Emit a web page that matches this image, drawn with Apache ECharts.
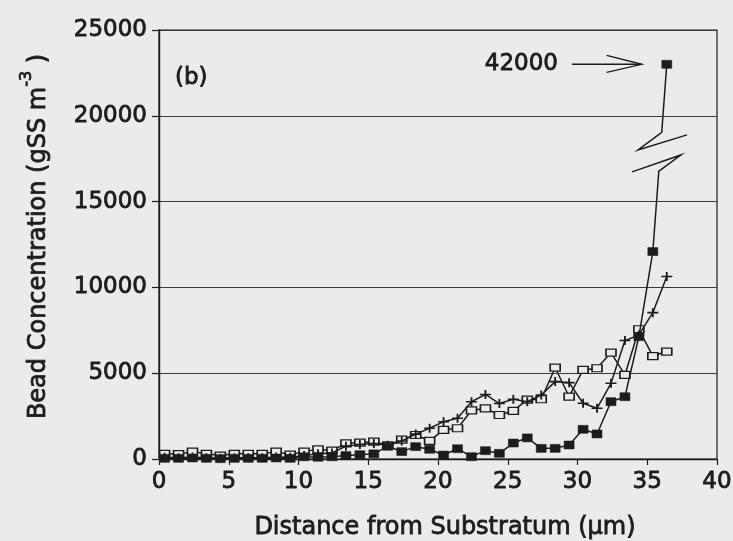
<!DOCTYPE html>
<html>
<head>
<meta charset="utf-8">
<script src="https://cdn.jsdelivr.net/npm/echarts@6/dist/echarts.min.js"></script>
<style>
  html, body { margin: 0; padding: 0; background: #ebebe9; }
  #chart { width: 733px; height: 541px; }
</style>
</head>
<body>
<div id="chart"></div>
<script>
// Distance from the substratum (µm) at each sampled depth
const distance = [0.4, 1.4, 2.4, 3.4, 4.4, 5.4, 6.4, 7.4, 8.4, 9.4,
  10.4, 11.4, 12.4, 13.4, 14.4, 15.4, 16.4, 17.4, 18.4, 19.4,
  20.4, 21.4, 22.4, 23.4, 24.4, 25.4, 26.4, 27.4, 28.4, 29.4,
  30.4, 31.4, 32.4, 33.4, 34.4, 35.4, 36.4];

// Bead concentration (gSS m^-3), one list per profile
const openSquares = [300, 280, 430, 300, 200, 300, 300, 300, 430, 250,
  430, 565, 485, 915, 950, 1010, 800, 1130, 1400, 1060,
  1700, 1790, 2830, 2950, 2565, 2800, 3460, 3480, 5320, 3630,
  5190, 5290, 6200, 4900, 7560, 6000, 6260];

const crosses = [100, 80, 120, 80, 50, 80, 80, 80, 120, 100,
  200, 300, 350, 750, 850, 900, 800, 1050, 1450, 1790,
  2175, 2370, 3340, 3760, 3230, 3480, 3340, 3730, 4510, 4450,
  3250, 2955, 4410, 6900, 7230, 8530, 10630];

const filledSquares = [40, 40, 60, 40, 20, 40, 40, 40, 60, 40,
  130, 100, 130, 200, 250, 300, 740, 430, 720, 565,
  230, 600, 135, 485, 330, 930, 1230, 620, 620, 815,
  1730, 1460, 3340, 3630, 7130, 12090, 42000];

// Axis ranges and tick steps
const xRange = [0, 40, 5];
const yRange = [0, 25000, 5000];

// Values beyond the axis top are drawn here, with a break on the line
const offScaleAt = 23000;

// Break symbol on the off-scale segment (data coordinates)
const breakLower = [[35.77, 16730], [37.42, 17720], [33.91, 16730]];
const breakUpper = [[35.99, 19000], [34.34, 18010], [37.85, 18890]];
const breakMask = [[35.5, 16730], [36.3, 19000]];

// Arrow pointing at the off-scale value
const arrowFrom = [29.6, offScaleAt];
const arrowTo = [34.6, offScaleAt];

const INK = '#1c1c1c';
const BG = '#ebebe9';
const FONT = 'DejaVu Sans';
const heavy = { textBorderColor: INK, textBorderWidth: 0.8 };

const pairs = vals => vals.map((v, i) => [distance[i], Math.min(v, offScaleAt)]);
const offScaleValue = filledSquares.find(v => v > yRange[1]);

const chart = echarts.init(document.getElementById('chart'), null, { renderer: 'canvas' });

const baseSeries = {
  type: 'line',
  lineStyle: { color: INK, width: 1.5 },
  animation: false,
  silent: true,
  showAllSymbol: true
};

const tickLabel = Object.assign({
  fontFamily: FONT, fontSize: 23, color: INK, margin: 12,
  formatter: v => String(v)
}, heavy);

chart.setOption({
  backgroundColor: BG,
  animation: false,
  title: {
    text: '(b)',
    left: 170,
    top: 62,
    textStyle: Object.assign({ fontFamily: FONT, fontSize: 23, fontWeight: 'normal', color: INK }, heavy)
  },
  grid: {
    left: 159, right: 16, top: 30, bottom: 82,
    show: true, borderColor: INK, borderWidth: 1.2,
    backgroundColor: 'transparent',
    outerBoundsMode: 'none'
  },
  xAxis: {
    type: 'value',
    min: xRange[0], max: xRange[1], interval: xRange[2],
    name: 'Distance from Substratum (\u00b5m)',
    nameLocation: 'middle',
    nameGap: 57,
    nameTextStyle: Object.assign({ fontFamily: FONT, fontSize: 24, color: INK, padding: [0, 0, 0, 14] }, heavy),
    axisLine: { show: true, onZero: false, lineStyle: { color: INK, width: 1.4 } },
    axisTick: { show: true, inside: false, length: 6, lineStyle: { color: INK, width: 1.2 } },
    axisLabel: tickLabel,
    splitLine: { show: false }
  },
  yAxis: {
    type: 'value',
    min: yRange[0], max: yRange[1], interval: yRange[2],
    name: '{n|Bead Concentration (gSS m}{s|-3}{n| )}',
    nameLocation: 'middle',
    nameGap: 108,
    nameTextStyle: {
      fontFamily: FONT, color: INK,
      padding: [0, 0, 0, 16],
      rich: {
        n: Object.assign({ fontFamily: FONT, fontSize: 24, color: INK, lineHeight: 32, verticalAlign: 'bottom' }, heavy),
        s: Object.assign({ fontFamily: FONT, fontSize: 16, color: INK, lineHeight: 32, verticalAlign: 'top' }, heavy)
      }
    },
    axisLine: { show: true, onZero: false, lineStyle: { color: INK, width: 1.4 } },
    axisTick: { show: true, inside: false, length: 7, lineStyle: { color: INK, width: 1.2 } },
    axisLabel: tickLabel,
    splitLine: { show: true, lineStyle: { color: '#3a3a3a', width: 1.2 } }
  },
  series: [
    Object.assign({}, baseSeries, {
      name: 'open',
      z: 2,
      data: pairs(openSquares),
      symbol: 'rect',
      symbolSize: [10, 7],
      itemStyle: { color: BG, borderColor: INK, borderWidth: 1.4 }
    }),
    Object.assign({}, baseSeries, {
      name: 'cross',
      z: 3,
      data: pairs(crosses),
      symbol: 'path://M0,4 L10,4 M5,0 L5,8',
      symbolSize: [11, 9],
      itemStyle: { color: INK, borderColor: INK, borderWidth: 1.7 }
    }),
    Object.assign({}, baseSeries, {
      name: 'filled',
      z: 4,
      data: pairs(filledSquares),
      symbol: 'rect',
      symbolSize: [10, 8],
      itemStyle: { color: INK, borderColor: INK, borderWidth: 0.5 }
    }),
    {
      // break mark on the off-scale segment and the arrow naming its value
      type: 'custom',
      coordinateSystem: 'cartesian2d',
      z: 6,
      silent: true,
      clip: false,
      animation: false,
      data: [arrowTo],
      renderItem: function (params, api) {
        const pts = arr => arr.map(p => api.coord(p));
        const m0 = api.coord(breakMask[0]);
        const m1 = api.coord(breakMask[1]);
        const tail = api.coord(arrowFrom);
        const tip = api.coord(arrowTo);
        const stroke = { stroke: INK, lineWidth: 1.5, fill: null };
        return {
          type: 'group',
          children: [
            {
              type: 'rect',
              shape: {
                x: Math.min(m0[0], m1[0]), y: Math.min(m0[1], m1[1]),
                width: Math.abs(m1[0] - m0[0]), height: Math.abs(m1[1] - m0[1])
              },
              style: { fill: BG }
            },
            { type: 'polyline', shape: { points: pts(breakLower) }, style: stroke },
            { type: 'polyline', shape: { points: pts(breakUpper) }, style: stroke },
            {
              type: 'line',
              shape: { x1: tail[0], y1: tail[1], x2: tip[0], y2: tip[1] },
              style: { stroke: INK, lineWidth: 1.4 }
            },
            {
              type: 'polyline',
              shape: { points: [[tip[0] - 35, tip[1] - 9], [tip[0], tip[1]], [tip[0] - 35, tip[1] + 8]] },
              style: { stroke: INK, lineWidth: 1.4, fill: null }
            },
            {
              type: 'text',
              style: {
                text: String(offScaleValue),
                x: tail[0] - 14, y: tail[1],
                align: 'right', verticalAlign: 'middle',
                fontFamily: FONT, fontSize: 23, fill: INK,
                stroke: INK, lineWidth: 0.8
              }
            }
          ]
        };
      }
    }
  ]
});
</script>
</body>
</html>
